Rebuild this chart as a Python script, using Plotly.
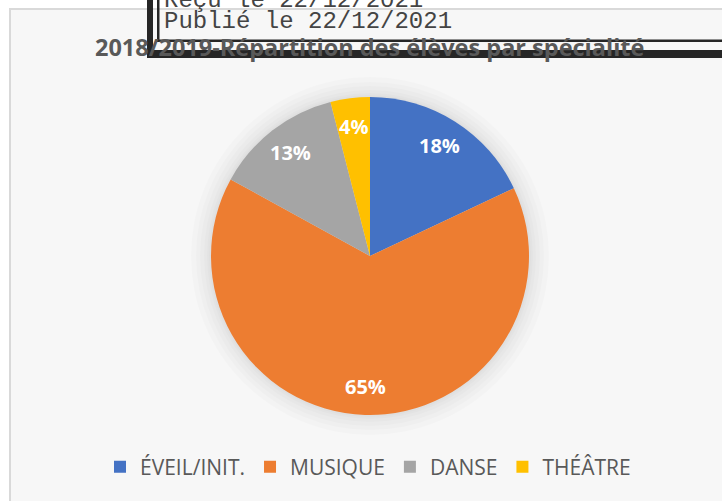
import math
import plotly.graph_objects as go

W, H = 722, 501

categories = ["ÉVEIL/INIT.", "MUSIQUE", "DANSE", "THÉÂTRE"]
values = [18, 65, 13, 4]
colors = ["#4472C4", "#ED7D31", "#A5A5A5", "#FFC000"]
title_text = "2018/2019-Répartition des élèves par spécialité"
stamp_lines = ["Reçu le 22/12/2021", "Publié le 22/12/2021"]


def px(x):
    return x / W


def py(y):
    return 1 - y / H


cx, cy, r = 370, 256, 159

fig = go.Figure()
fig.add_trace(go.Pie(
    labels=categories,
    values=values,
    sort=False,
    direction="clockwise",
    rotation=0,
    marker=dict(colors=colors, line=dict(width=0)),
    textinfo="none",
    domain=dict(x=[px(cx - r), px(cx + r)], y=[py(cy + r), py(cy - r)]),
    hoverinfo="label+percent",
))

shapes = []
# chart area background and border
shapes.append(dict(type="rect", xref="paper", yref="paper",
                   x0=px(10), x1=px(W + 5), y0=py(H + 5), y1=py(9),
                   fillcolor="#f7f7f7", line=dict(color="#d9d9d9", width=2),
                   layer="below"))
# soft shadow around pie
for d in [20, 15, 11, 7, 4, 2]:
    shapes.append(dict(type="circle", xref="paper", yref="paper",
                       x0=px(cx - r - d), x1=px(cx + r + d),
                       y0=py(cy + r + d), y1=py(cy - r - d),
                       fillcolor="rgba(0,0,0,0.014)", line=dict(width=0),
                       layer="below"))

annotations = [
    dict(text=title_text, xref="paper", yref="paper", x=px(369), y=py(47.5),
         xanchor="center", yanchor="middle", showarrow=False,
         font=dict(family="Open Sans", size=23.5, color="#595959", weight="bold")),
    dict(text=stamp_lines[0], xref="paper", yref="paper", x=px(162), y=py(0),
         xanchor="left", yanchor="middle", showarrow=False,
         font=dict(family="Liberation Mono", size=24, color="#444444")),
    dict(text=stamp_lines[1], xref="paper", yref="paper", x=px(162), y=py(21),
         xanchor="left", yanchor="middle", showarrow=False,
         font=dict(family="Liberation Mono", size=24, color="#444444")),
]

# percentage labels placed along each slice's mid angle (derived from values)
total = sum(values)
cum = 0
for v in values:
    mid = (cum + v / 2) / total * 2 * math.pi
    cum += v
    lx = cx + 0.82 * r * math.sin(mid)
    ly = cy - 0.82 * r * math.cos(mid)
    annotations.append(dict(
        text=f"{round(v / total * 100)}%", xref="paper", yref="paper",
        x=px(lx), y=py(ly), xanchor="center", yanchor="middle",
        showarrow=False,
        font=dict(family="Open Sans", size=20, color="white", weight="bold")))

# stamp frame (drawn above everything)
dark = "#262626"
for (x0, x1, y0, y1) in [(147, W + 5, 50, 58), (147, 153, -5, 58),
                         (157, 159.5, -5, 42), (157, W + 5, 39.5, 42)]:
    shapes.append(dict(type="rect", xref="paper", yref="paper",
                       x0=px(x0), x1=px(x1), y0=py(y1), y1=py(y0),
                       fillcolor=dark, line=dict(width=0), layer="above"))

fig.update_layout(
    width=W, height=H,
    margin=dict(l=0, r=0, t=0, b=0),
    paper_bgcolor="white",
    plot_bgcolor="white",
    shapes=shapes,
    annotations=annotations,
    showlegend=True,
    legend=dict(orientation="h", x=px(368), y=py(467), xanchor="center",
                yanchor="middle", bgcolor="rgba(0,0,0,0)",
                font=dict(family="Open Sans", size=21, color="#595959"),
                traceorder="normal", itemwidth=30),
)

fig.write_html("out.html", config={"displayModeBar": False},
               post_script="document.body.style.margin='0';")
